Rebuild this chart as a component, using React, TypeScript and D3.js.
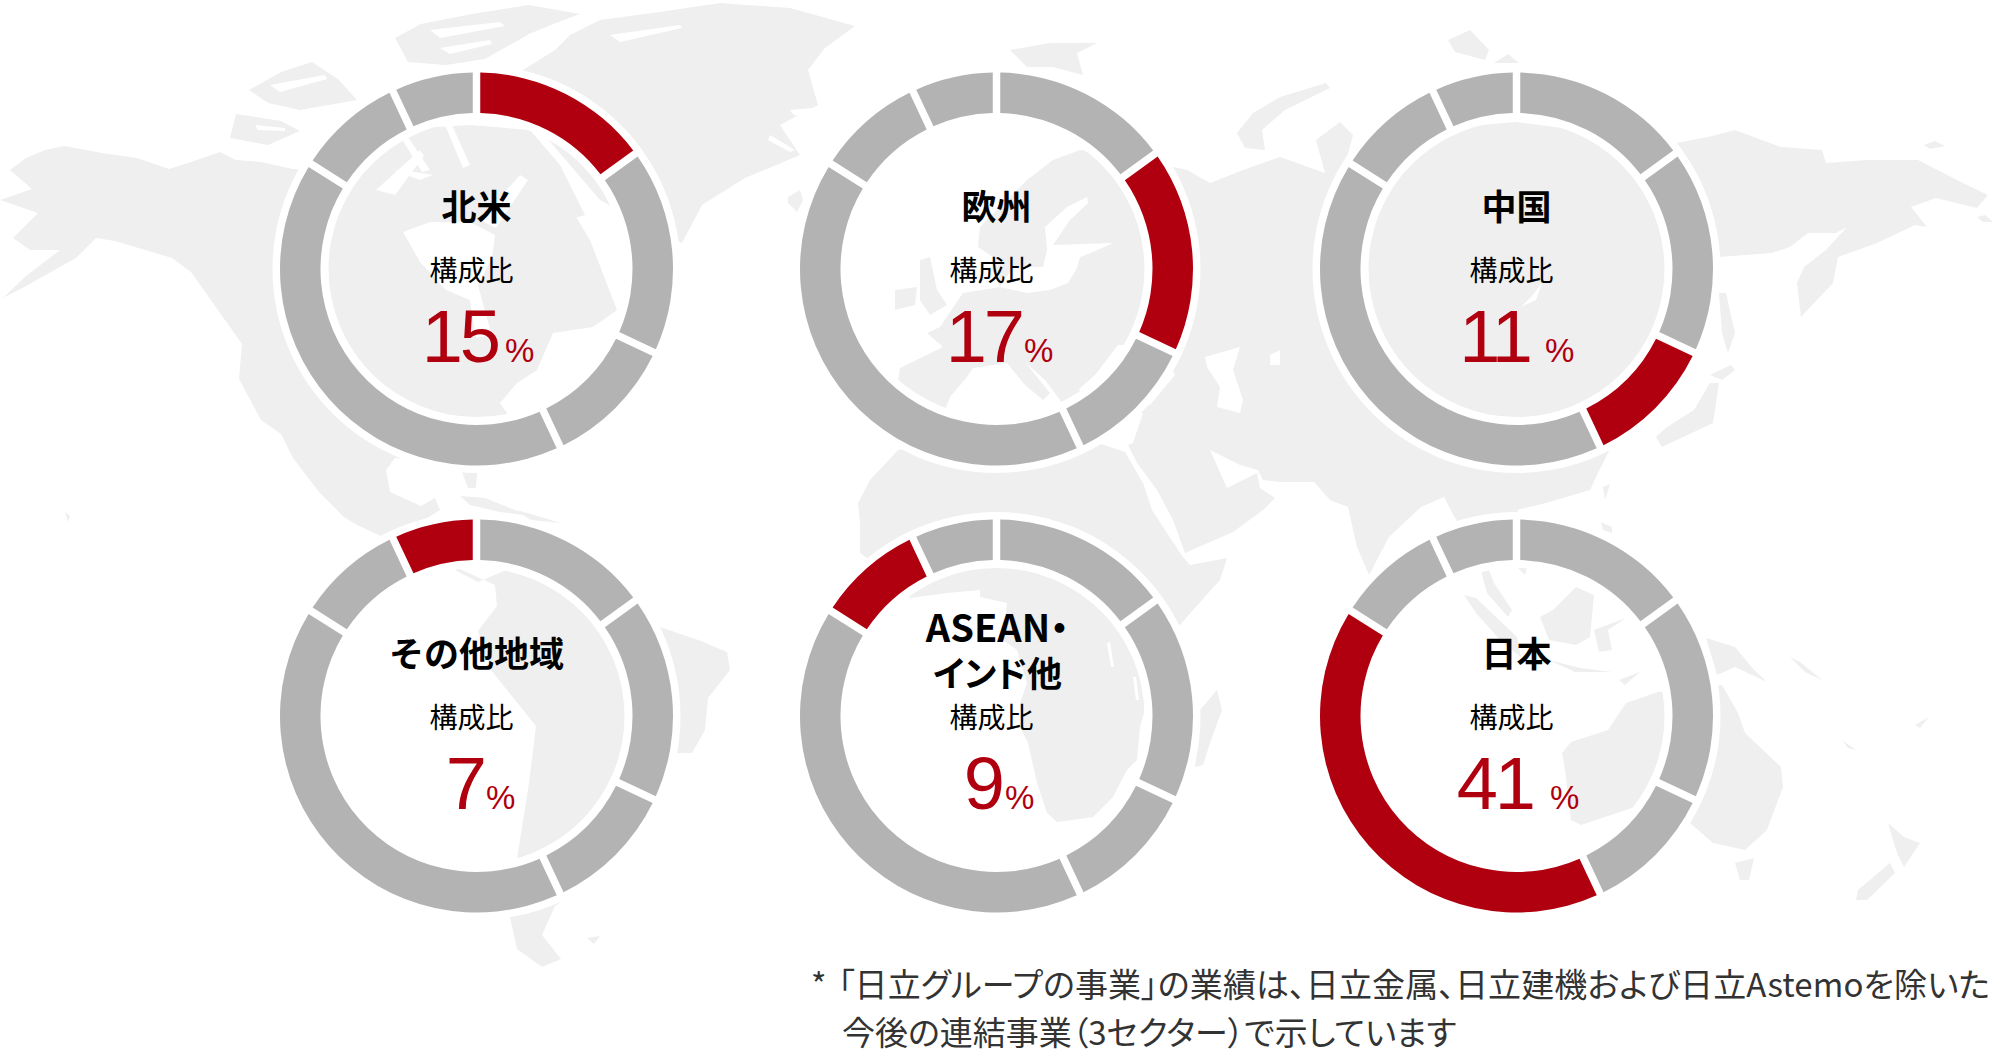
import { arc, curveLinearClosed, line, pie, scaleLinear } from 'd3'

// clockwise from 12 o'clock, as the segments sit on every ring
const regions = ['北米', '欧州', '中国', '日本', 'ASEAN・\nインド他', 'その他地域']
const shares = [15, 17, 11, 41, 9, 7]
const ratioLabel = '構成比'
const footnote = [
  '「日立グループの事業」の業績は、日立金属、日立建機および日立Astemoを除いた',
  '今後の連結事業（3セクター）で示しています',
]

// which region goes in which cell, and the x where its figure ends / % starts
const cells = [
  { region: 0, col: 0, row: 0, numEnd: 498, pctStart: 505 },
  { region: 1, col: 1, row: 0, numEnd: 1022, pctStart: 1024 },
  { region: 2, col: 2, row: 0, numEnd: 1530, pctStart: 1545 },
  { region: 5, col: 0, row: 1, numEnd: 484, pctStart: 486 },
  { region: 4, col: 1, row: 1, numEnd: 1002, pctStart: 1005 },
  { region: 3, col: 2, row: 1, numEnd: 1533, pctStart: 1550 },
]

// background world map (pixels)
type Ring = [number, number][]
const land: Ring[] = [
  // North America
  [[10,170],[26,158],[45,150],[64,146],[102,153],[137,158],[169,169],[191,162],[220,152],[236,160],[261,162],[293,169],[330,170],[352,160],[380,165],[420,180],[470,160],[520,170],[560,190],[590,240],[617,310],[593,327],[553,333],[537,370],[517,383],[500,403],[507,413],[495,445],[478,460],[476,488],[468,488],[462,472],[430,462],[395,458],[386,470],[390,492],[421,506],[435,498],[440,510],[424,520],[418,535],[440,560],[420,560],[383,537],[357,525],[344,517],[319,492],[293,458],[281,434],[261,420],[239,379],[242,344],[191,272],[172,258],[115,241],[96,238],[76,258],[26,286],[3,298],[26,276],[60,250],[30,250],[13,238],[38,213],[0,200],[32,189]],
  // Arctic Canada
  [[340,150],[370,125],[420,128],[470,125],[530,130],[560,165],[585,215],[560,222],[520,195],[470,180],[400,170],[350,175]],
  [[395,38],[421,24],[472,14],[529,5],[580,14],[561,21],[529,34],[485,59],[446,65],[408,62]],
  [[249,90],[281,72],[312,62],[338,79],[357,100],[300,110],[268,103]],
  [[236,114],[281,121],[300,131],[268,145],[230,138]],
  // Greenland
  [[523,70],[555,50],[570,35],[600,20],[660,12],[720,3],[790,8],[855,26],[825,48],[808,70],[818,105],[780,125],[800,155],[745,178],[702,205],[682,243],[675,240],[600,200],[540,130]],
  [[788,197],[800,190],[803,200],[797,212],[788,203]],
  // Caribbean
  [[460,496],[485,498],[530,516],[500,512],[470,505]],
  [[517,510],[561,523],[530,520]],
  [[65,512],[70,516],[68,522]],
  // South America
  [[440,560],[455,570],[478,582],[504,571],[560,540],[660,627],[701,641],[727,652],[730,670],[708,698],[705,730],[692,753],[676,753],[620,860],[555,906],[542,935],[561,959],[542,967],[517,949],[510,917],[517,859],[529,783],[536,726],[491,670],[478,631],[497,606],[495,585]],
  [[587,938],[600,936],[594,944]],
  // Eurasia
  [[1080,150],[1120,155],[1187,170],[1210,183],[1243,170],[1280,157],[1325,173],[1316,140],[1340,122],[1353,135],[1345,165],[1420,130],[1516,122],[1676,143],[1708,137],[1735,130],[1781,147],[1822,150],[1826,163],[1867,160],[1881,160],[1918,160],[1963,183],[1988,195],[1977,208],[1936,198],[1911,207],[1927,227],[1915,225],[1877,243],[1838,257],[1833,283],[1817,300],[1801,317],[1797,283],[1804,267],[1826,250],[1847,227],[1836,233],[1808,233],[1790,247],[1772,253],[1719,257],[1705,290],[1700,340],[1660,400],[1620,430],[1608,453],[1597,475],[1590,490],[1546,503],[1517,510],[1535,530],[1525,575],[1510,560],[1495,530],[1485,560],[1494,583],[1512,610],[1508,617],[1487,593],[1478,560],[1455,518],[1444,497],[1421,507],[1389,537],[1369,575],[1357,547],[1348,507],[1330,500],[1314,482],[1280,482],[1263,480],[1258,470],[1240,465],[1210,450],[1227,488],[1257,473],[1260,488],[1275,498],[1263,510],[1233,532],[1185,553],[1173,520],[1157,490],[1137,463],[1128,445],[1133,443],[1143,413],[1100,420],[1080,400],[1075,410],[1065,415],[1060,400],[1045,380],[1025,362],[1050,393],[1043,400],[1025,385],[1007,363],[973,368],[967,377],[950,397],[945,410],[915,412],[895,400],[900,368],[943,347],[927,333],[940,327],[963,293],[1000,287],[992,270],[993,257],[978,247],[980,227],[1000,207],[1027,180],[1053,160]],
  [[920,260],[930,257],[937,290],[947,305],[930,315],[920,300]],
  [[895,290],[917,287],[915,305],[895,310]],
  [[1010,50],[1050,43],[1097,43],[1077,53],[1083,75],[1053,67],[1027,67]],
  [[1237,133],[1253,113],[1280,97],[1326,83],[1330,88],[1285,110],[1262,130],[1265,150],[1245,148]],
  [[1448,40],[1470,30],[1489,50],[1485,60],[1455,52]],
  [[1494,63],[1508,54],[1519,63]],
  [[1924,145],[1935,141],[1945,146],[1930,149]],
  [[1977,217],[1985,215],[1993,222],[1983,222]],
  // Japan, Sakhalin, Taiwan
  [[1656,437],[1667,427],[1694,410],[1710,383],[1719,383],[1713,423],[1662,447]],
  [[1710,375],[1731,365],[1735,370],[1722,380]],
  [[1719,293],[1726,293],[1735,333],[1728,353],[1722,333]],
  [[1603,487],[1610,484],[1605,500]],
  // Africa
  [[898,450],[960,430],[1060,430],[1125,452],[1143,483],[1152,510],[1165,530],[1183,557],[1190,565],[1227,558],[1220,580],[1193,610],[1180,625],[1150,690],[1140,727],[1137,760],[1127,770],[1113,797],[1093,817],[1057,822],[1047,813],[1037,783],[1028,743],[1020,727],[1020,703],[1027,683],[1017,650],[1003,640],[1007,603],[980,597],[980,590],[947,593],[910,598],[867,558],[860,553],[860,523],[858,503],[870,480]],
  [[1217,690],[1222,710],[1210,743],[1203,765],[1195,767],[1200,710]],
  // South-east Asia and Oceania
  [[1464,595],[1476,598],[1517,637],[1521,657],[1503,643],[1476,613]],
  [[1540,617],[1553,610],[1576,587],[1594,595],[1590,637],[1576,645],[1549,640]],
  [[1549,660],[1580,668],[1612,672],[1575,672]],
  [[1594,630],[1626,618],[1608,630],[1612,650],[1599,652]],
  [[1601,522],[1612,527],[1612,533],[1603,530]],
  [[1619,680],[1640,672],[1625,685]],
  [[1706,638],[1735,647],[1754,670],[1767,682],[1735,667],[1717,675]],
  [[1790,657],[1800,662],[1822,680],[1805,672]],
  [[1562,753],[1571,742],[1608,730],[1626,703],[1658,692],[1722,685],[1738,713],[1745,733],[1781,767],[1783,787],[1767,830],[1745,850],[1713,843],[1690,823],[1635,807],[1581,825],[1571,820],[1565,770]],
  [[1735,863],[1754,858],[1749,880],[1740,880]],
  [[1888,823],[1904,837],[1920,843],[1904,867],[1897,853]],
  [[1890,863],[1895,873],[1867,900],[1856,900],[1858,890]],
  [[1915,725],[1929,717],[1920,728]],
  [[1842,740],[1856,750],[1848,748]],
]
// seas cut out of the land above
const water: Ring[] = [
  [[403,232],[430,222],[470,222],[495,235],[492,258],[478,285],[486,315],[492,335],[476,338],[470,300],[446,290],[420,262]],
  [[1067,207],[1087,197],[1088,203],[1070,220],[1053,245],[1113,243],[1093,252],[1080,257],[1077,268],[1068,283],[1050,290],[1027,293],[1000,287],[1013,267],[1043,267],[1047,250],[1045,227]],
  [[1120,395],[1078,390],[1095,375],[1118,345],[1160,345],[1175,375],[1150,405]],
  [[1205,357],[1240,347],[1233,370],[1243,400],[1240,413],[1217,407],[1220,387],[1207,367]],
  [[1270,355],[1280,350],[1280,365],[1270,365]],
  [[1107,643],[1110,642],[1114,667],[1111,667]],
  [[1133,677],[1136,677],[1139,700],[1136,700]],
  [[1542,283],[1536,300],[1521,307],[1532,296]],
  // Arctic channels
  [[480,220],[520,175],[528,180],[496,228]],
  [[376,190],[420,150],[424,156],[395,195]],
  [[445,125],[452,125],[470,165],[463,168]],
  [[395,128],[402,128],[430,170],[422,172]],
  [[430,30],[500,22],[505,26],[440,38]],
  [[440,48],[490,40],[492,44],[450,54]],
  [[270,85],[325,75],[327,79],[280,92]],
  [[255,125],[285,128],[285,131],[258,130]],
  [[610,35],[680,25],[682,28],[620,42]],
  [[790,110],[812,108],[812,112],[795,116]],
  [[770,135],[795,150],[790,152],[768,140]],
]

const MAP = '#efefef'
const RED = '#b0000f'
const GREY = '#b3b3b3'

const colX = scaleLinear().domain([0, 2]).range([476.5, 1516.5])
const rowY = scaleLinear().domain([0, 1]).range([269, 716])
const ROW_STEP = rowY(1) - rowY(0)

const slices = pie<number>().sort(null).value((d) => d)(shares)
const segment = arc<{ startAngle: number; endAngle: number }>()
  .innerRadius(156)
  .outerRadius(196.5)
  .padRadius(196.5)
  .padAngle(7.5 / 196.5)
const halo = arc<any>().innerRadius(148).outerRadius(204).startAngle(0).endAngle(Math.PI * 2)
const ringPath = line<[number, number]>().curve(curveLinearClosed)

const JP = '"Noto Sans CJK JP", "Noto Sans", sans-serif'
const FIGURE = '"Liberation Sans", sans-serif'
const palt = { fontFeatureSettings: '"palt"' }

function Donut({ cell }: { cell: (typeof cells)[number] }) {
  const cx = colX(cell.col)
  const cy = rowY(cell.row)
  return (
    <g transform={`translate(${cx},${cy})`}>
      <path d={halo(null) ?? ''} fill="#fff" />
      {slices.map((s, i) => (
        <path key={i} d={segment(s) ?? ''} fill={i === cell.region ? RED : GREY} />
      ))}
    </g>
  )
}

function Label({ cell }: { cell: (typeof cells)[number] }) {
  const cx = colX(cell.col)
  const dy = cell.row * ROW_STEP
  const name = regions[cell.region].split('\n')
  return (
    <g fontFamily={JP}>
      {name.length === 1 ? (
        <text x={cx} y={220 + dy} textAnchor="middle" fontSize={35} fontWeight={700} fill="#000">
          {name[0]}
        </text>
      ) : (
        name.map((t, i) => (
          <text key={t} x={cx + 1} y={195 + dy + i * 45} textAnchor="middle" fontSize={i === 0 ? 38 : 35} fontWeight={700} fill="#000" style={palt}>
            {t}
          </text>
        ))
      )}
      <text x={cx - 5} y={281 + dy} textAnchor="middle" fontSize={28} fill="#000">
        {ratioLabel}
      </text>
      <text x={cell.numEnd} y={362 + dy} textAnchor="end" fontFamily={FIGURE} fontSize={74} letterSpacing={-3} fill={RED}>
        {shares[cell.region]}
      </text>
      <text x={cell.pctStart} y={362 + dy} fontFamily={FIGURE} fontSize={33} fill={RED}>
        %
      </text>
    </g>
  )
}

export default function App() {
  return (
    <svg width={1994} height={1054} style={{ position: 'absolute', left: 0, top: 0 }}>
      <rect width={1994} height={1054} fill="#fff" />
      <g fill={MAP}>
        {land.map((r, i) => (
          <path key={i} d={ringPath(r) ?? ''} />
        ))}
      </g>
      <g fill="#fff">
        {water.map((r, i) => (
          <path key={i} d={ringPath(r) ?? ''} />
        ))}
      </g>
      {cells.map((c) => (
        <Donut key={c.region} cell={c} />
      ))}
      {cells.map((c) => (
        <Label key={c.region} cell={c} />
      ))}
      <g fontFamily={JP} fontSize={33} fill="#333" style={palt}>
        <text x={811} y={997}>*</text>
        <text x={838} y={997} textLength={1152} lengthAdjust="spacing">{footnote[0]}</text>
        <text x={842} y={1044.5}>{footnote[1]}</text>
      </g>
    </svg>
  )
}
